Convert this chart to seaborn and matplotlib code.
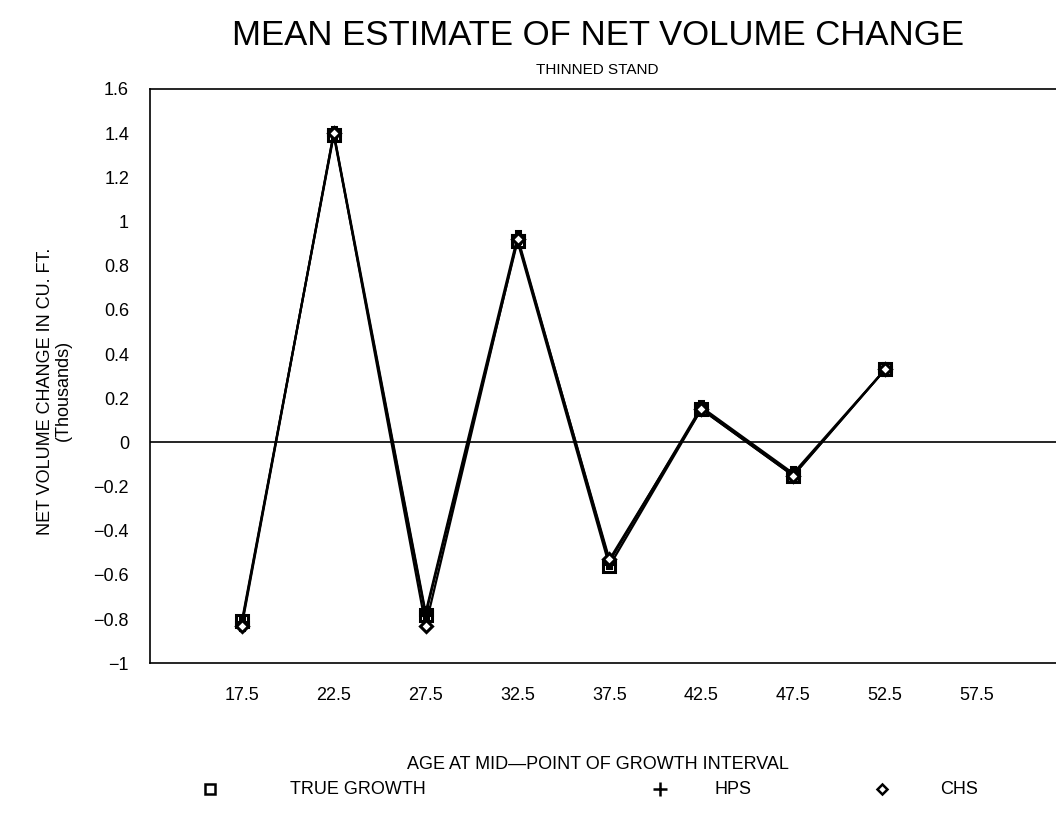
import matplotlib
matplotlib.use("Agg")
import matplotlib.pyplot as plt
from matplotlib.lines import Line2D
import seaborn as sns
import pandas as pd

# Age at mid-point of each growth interval
ages = [17.5, 22.5, 27.5, 32.5, 37.5, 42.5, 47.5, 52.5]
# Mean net volume change (thousands of cu. ft.)
true_growth = [-0.81, 1.39, -0.78, 0.91, -0.56, 0.15, -0.15, 0.33]
hps = [-0.82, 1.40, -0.77, 0.93, -0.54, 0.16, -0.14, 0.33]
chs = [-0.83, 1.40, -0.83, 0.92, -0.53, 0.15, -0.15, 0.33]
series_names = ["TRUE GROWTH", "HPS", "CHS"]
x_ticks = [17.5, 22.5, 27.5, 32.5, 37.5, 42.5, 47.5, 52.5, 57.5]
y_ticks = [-1, -0.8, -0.6, -0.4, -0.2, 0, 0.2, 0.4, 0.6, 0.8, 1, 1.2, 1.4, 1.6]

df = pd.concat([
    pd.DataFrame({"age": ages, "change": vals, "series": name})
    for name, vals in zip(series_names, [true_growth, hps, chs])
], ignore_index=True)

sns.set_style("white")
plt.rcParams["font.family"] = ["Liberation Sans", "DejaVu Sans"]
plt.rcParams["text.color"] = "black"

fig = plt.figure(figsize=(10.56, 8.23), dpi=100)
ax = fig.add_axes([0.142, 0.194, 0.858, 0.698])

markers = {"TRUE GROWTH": "s", "HPS": "P", "CHS": "D"}
sizes = {"TRUE GROWTH": 8, "HPS": 8, "CHS": 6}
for name in series_names:
    sub = df[df["series"] == name]
    sns.lineplot(data=sub, x="age", y="change", ax=ax, color="black",
                 linewidth=1.6, marker=markers[name], markersize=sizes[name],
                 markerfacecolor="white" if name != "HPS" else "black",
                 markeredgecolor="black", markeredgewidth=2.2,
                 legend=False)

ax.axhline(0, color="black", linewidth=1.2)

ax.set_xlim(12.5, 61.8)
ax.set_ylim(-1, 1.6)
ax.set_xticks(x_ticks)
ax.set_xticklabels([f"{t:g}" for t in x_ticks])
ax.set_yticks(y_ticks)
ax.set_yticklabels([f"{t:g}".replace("-", "\u2212") for t in y_ticks])
ax.tick_params(axis="both", direction="out", length=7, width=1.2,
               labelsize=13, colors="black", labelcolor="black")
ax.tick_params(axis="x", pad=10)
ax.tick_params(axis="y", pad=8)
for side in ["left", "bottom", "top"]:
    ax.spines[side].set_visible(True)
    ax.spines[side].set_color("black")
    ax.spines[side].set_linewidth(1.2)
ax.spines["right"].set_visible(False)
ax.set_xlabel("")
ax.set_ylabel("")

fig.text(0.566, 0.957, "MEAN ESTIMATE OF NET VOLUME CHANGE",
         ha="center", va="center", fontsize=25, color="black")
fig.text(0.566, 0.915, "THINNED STAND", ha="center", va="center",
         fontsize=11, color="black")

fig.text(0.043, 0.525, "NET VOLUME CHANGE IN CU. FT.", rotation=90,
         ha="center", va="center", fontsize=13, color="black")
fig.text(0.060, 0.525, "(Thousands)", rotation=90,
         ha="center", va="center", fontsize=13, color="black")

fig.text(0.566, 0.071, "AGE AT MID\u2014POINT OF GROWTH INTERVAL",
         ha="center", va="center", fontsize=13, color="black")

legend_y = 0.041
legend_items = [
    ("s", 0.199, 0.275, "TRUE GROWTH", 7, "white"),
    ("+", 0.625, 0.677, "HPS", 10, "black"),
    ("D", 0.835, 0.890, "CHS", 5.5, "white"),
]
for marker, mx, tx, label, msize, fc in legend_items:
    fig.add_artist(Line2D([mx], [legend_y], transform=fig.transFigure,
                          marker=marker, markersize=msize, color="black",
                          markerfacecolor=fc, markeredgewidth=1.8,
                          linestyle="none"))
    fig.text(tx, legend_y, label, ha="left", va="center", fontsize=13,
             color="black")

fig.savefig("out.png", dpi=100)
